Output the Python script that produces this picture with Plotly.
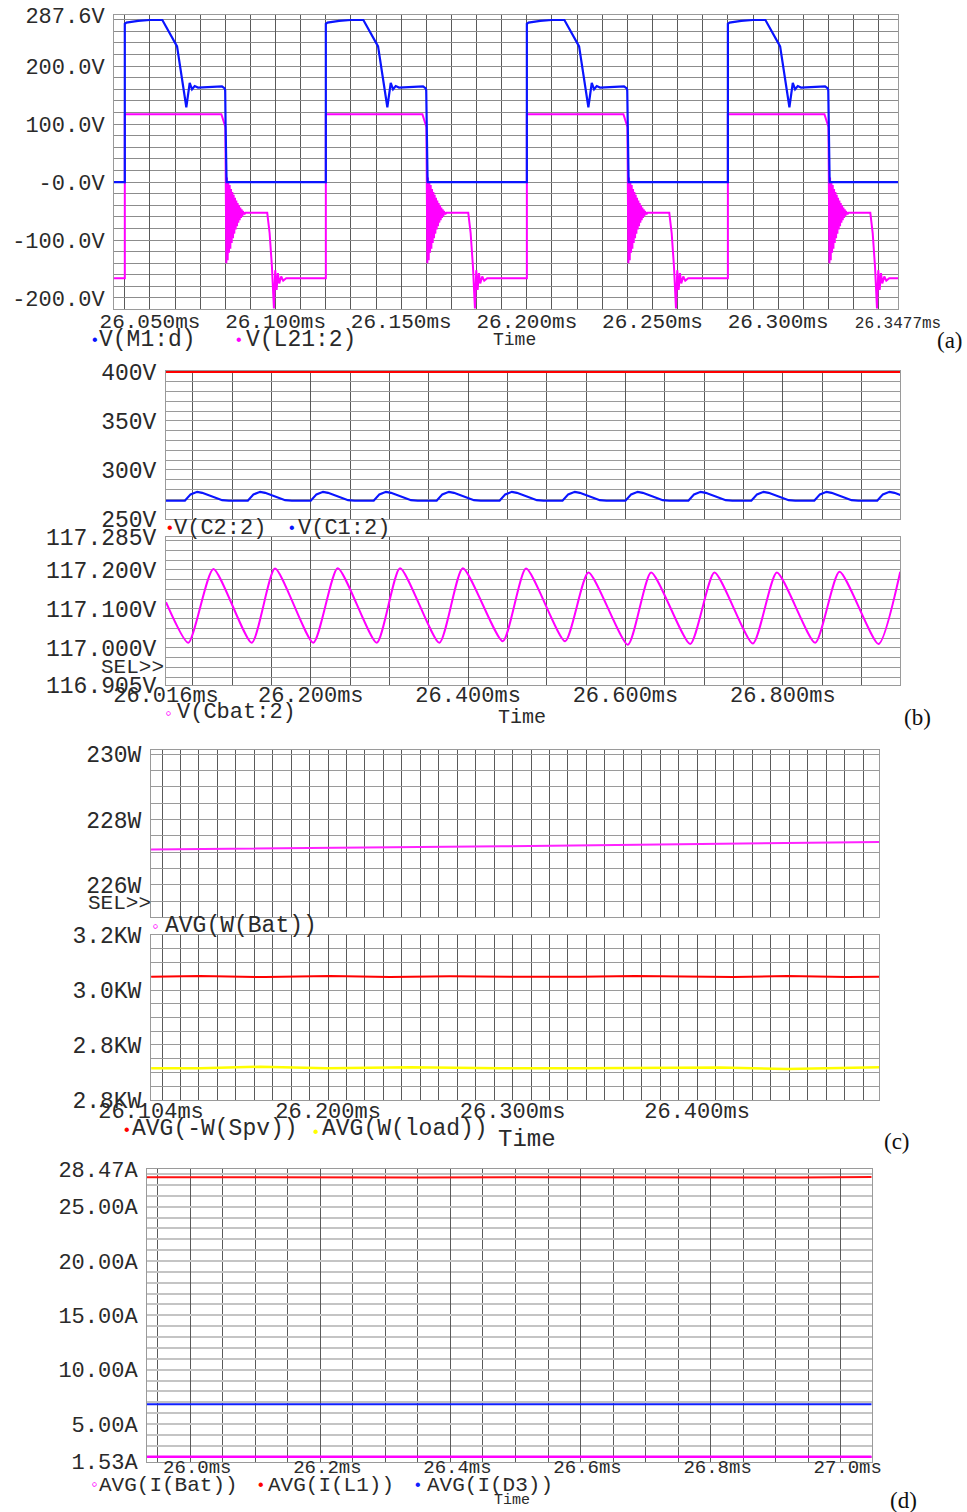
import plotly.graph_objects as go

W, H = 967, 1512
MONO = "Liberation Mono"
SERIF = "Liberation Serif"
TXT = "#2a2a2a"
VG = "#5a5a5a"      # vertical grid
FRAME = "#9a9a9a"

# ---------------- data: panel (a) ----------------
a_range = [26.0357, 26.3477]
a_edges = [26.040, 26.120, 26.200, 26.280]          # switching edges (ms)
# V(M1:d): one switching cycle (offset ms, volts)
md_dt = [0.0, 0.0, 0.00064, 0.00529, 0.00994, 0.01494, 0.02079, 0.02448, 0.02583,
         0.02675, 0.02782, 0.02913, 0.03867, 0.03975, 0.03995, 0.04010, 0.04050]
md_v = [0, 273, 275, 278, 279.5, 279.5, 234, 129, 171,
        160, 165.5, 163, 165, 161.5, 158, 100, 0]
# V(L21:2): one cycle incl. ringing burst (offset ms, volts)
l21_dt = [0.0, 0.0, 0.03843, 0.04002,
          0.04014, 0.04041, 0.04067, 0.04094, 0.04120, 0.04147, 0.04173, 0.04200,
          0.04226, 0.04253, 0.04279, 0.04306, 0.04331, 0.04358, 0.04384, 0.04411,
          0.04437, 0.04464, 0.04490, 0.04517, 0.04543, 0.04570, 0.04596, 0.04623,
          0.04649, 0.04676, 0.04702, 0.04729, 0.04755, 0.04782,
          0.04800, 0.05668, 0.05763, 0.05855, 0.05934, 0.05986, 0.06041, 0.06093,
          0.06145, 0.06224, 0.06304, 0.06423]
l21_v = [-166, 117, 117, 95,
         15, -140, 8, -135, 0, -122, -5, -115,
         -12, -105, -17, -97, -22, -89, -27, -82,
         -32, -76, -36, -70, -40, -66, -44, -62,
         -47, -59, -50, -56, -52, -54,
         -53, -53, -88, -146, -218, -152, -186, -157,
         -175, -163, -170, -166]
a_yticks = [287.6, 200, 100, 0, -100, -200]
a_ytext = ["287.6V", "200.0V", "100.0V", "-0.0V", "-100.0V", "-200.0V"]
a_xticks = [26.05, 26.10, 26.15, 26.20, 26.25, 26.30, 26.3477]
a_xtext = ["26.050ms", "26.100ms", "26.150ms", "26.200ms", "26.250ms", "26.300ms",
           '<span style="font-size:16px">26.3477ms</span>']

# ---------------- data: panel (b) ----------------
b_range = [26.016, 26.949]
c2_t = [26.016, 26.949]
c2_v = [400, 400]
c1_starts = [26.040, 26.120, 26.200, 26.280, 26.360, 26.440, 26.520, 26.600,
             26.680, 26.760, 26.840, 26.920]
c1_dt = [0.0, 0.00725, 0.01564, 0.02200, 0.03471, 0.04743, 0.05594]
c1_v = [268.6, 275.1, 277.7, 276.7, 272.6, 269.2, 268.6]
cbat_t = [26.0160, 26.0444, 26.0762, 26.1250, 26.1546, 26.2033, 26.2343, 26.2839,
          26.3135, 26.3635, 26.3933, 26.4441, 26.4737, 26.5233, 26.5530, 26.6031,
          26.6327, 26.6823, 26.7132, 26.7620, 26.7925, 26.8412, 26.8721, 26.9217,
          26.9493]
cbat_v = [117.117, 117.013, 117.202, 117.013, 117.203, 117.013, 117.204, 117.013,
          117.204, 117.013, 117.204, 117.017, 117.203, 117.017, 117.193, 117.008,
          117.193, 117.010, 117.193, 117.011, 117.193, 117.013, 117.195, 117.010,
          117.195]
b1_yticks = [400, 350, 300, 250]
b1_ytext = ["400V", "350V", "300V", "250V"]
b2_yticks = [117.285, 117.2, 117.1, 117.0, 116.905]
b2_ytext = ["117.285V", "117.200V", "117.100V", "117.000V", "116.905V"]
b_xticks = [26.016, 26.2, 26.4, 26.6, 26.8]
b_xtext = ["26.016ms", "26.200ms", "26.400ms", "26.600ms", "26.800ms"]

# ---------------- data: panel (c) ----------------
c_range = [26.104, 26.4988]
wbat_t = [26.104, 26.1696, 26.2320, 26.2941, 26.3565, 26.4188, 26.4811, 26.4988]
wbat_v = [227.08, 227.11, 227.15, 227.18, 227.22, 227.26, 227.30, 227.31]
spv_t = [26.1041, 26.1306, 26.1659, 26.2011, 26.2336, 26.2661, 26.3041, 26.3366,
         26.3664, 26.4016, 26.4195, 26.4488, 26.4813, 26.4988]
spv_v = [3.048, 3.051, 3.047, 3.051, 3.047, 3.050, 3.048, 3.048,
         3.051, 3.049, 3.047, 3.051, 3.047, 3.048]
load_t = [26.1041, 26.1306, 26.1631, 26.1995, 26.2444, 26.2932, 26.3366, 26.3908,
          26.4125, 26.4488, 26.4988]
load_v = [2.715, 2.715, 2.721, 2.715, 2.719, 2.715, 2.715, 2.719, 2.718, 2.713, 2.719]
c1_yticks = [230, 228, 226]
c1_ytext = ["230W", "228W", "226W"]
c2_yticks = [3.2, 3.0, 2.8, 2.6]
c2_ytext = ["3.2KW", "3.0KW", "2.8KW", "2.8KW"]
c_xticks = [26.104, 26.2, 26.3, 26.4]
c_xtext = ["26.104ms", "26.200ms", "26.300ms", "26.400ms"]

# ---------------- data: panel (d) ----------------
d_range = [25.9334, 27.0477]
il1_t = [25.9328, 26.1066, 26.2143, 26.3528, 26.5066, 26.6451, 26.7835, 26.9374, 27.0477]
il1_v = [27.71, 27.68, 27.72, 27.69, 27.72, 27.70, 27.71, 27.69, 27.73]
id3_t = [25.9334, 27.0477]
id3_v = [6.81, 6.81]
ibat_t = [25.9334, 27.0477]
ibat_v = [1.99, 1.99]
d_yticks = [28.47, 25, 20, 15, 10, 5, 1.53]
d_ytext = ["28.47A", "25.00A", "20.00A", "15.00A", "10.00A", "5.00A", "1.53A"]
d_xticks = [26.0, 26.2, 26.4, 26.6, 26.8, 27.0]
d_xtext = ["26.0ms", "26.2ms", "26.4ms", "26.6ms", "26.8ms", "27.0ms"]

# ---------------- build series ----------------
md_t, md_y = [a_range[0]], [0]
l21_t, l21_y = [a_range[0]], [-166]
for e in a_edges:
    md_t += [e + d for d in md_dt]; md_y += md_v
    l21_t += [e + d for d in l21_dt]; l21_y += l21_v
md_t.append(a_range[1]); md_y.append(0)
l21_t.append(a_range[1]); l21_y.append(-166)

c1_t, c1_y = [b_range[0]], [c1_v[0]]
for s in c1_starts:
    c1_t += [s + d for d in c1_dt]; c1_y += c1_v

fig = go.Figure()

def line(x, y, color, n, width=2, shape="linear", smoothing=None):
    ld = dict(color=color, width=width, shape=shape)
    if smoothing is not None:
        ld["smoothing"] = smoothing
    fig.add_trace(go.Scatter(x=x, y=y, mode="lines", line=ld,
                             xaxis="x" + n, yaxis="y" + n,
                             hoverinfo="skip", showlegend=False))

line(l21_t, l21_y, "#ff00ff", "", 2)
line(md_t, md_y, "#0a14ff", "", 2.2)
line(c1_t, c1_y, "#0a14ff", "2", 2.2)
line(c2_t, c2_v, "#ff0000", "2", 2)
line(cbat_t, cbat_v, "#ff00ff", "3", 2, shape="spline", smoothing=0.6)
line(wbat_t, wbat_v, "#ff22ff", "4", 2)
line(spv_t, spv_v, "#ff0000", "5", 2)
line(load_t, load_v, "#ffff00", "5", 2.5)
line(il1_t, il1_v, "#ff1010", "6", 2)
line(id3_t, id3_v, "#1020ff", "6", 2)
line(ibat_t, ibat_v, "#ff00ff", "6", 2.5)

def xdom(l, r):
    return [l / W, r / W]

def ydom(t, b):
    return [1 - b / H, 1 - t / H]

def xax(dom, rng, anchor, tv, tt, m0, md, show=True, size=22, shift=0, standoff=2):
    d = dict(domain=dom, range=rng, anchor=anchor, tickmode="array",
             tickvals=tv, ticktext=tt, showticklabels=show, ticks="",
             showgrid=True, gridcolor=VG, gridwidth=1, zeroline=False,
             showline=True, mirror=True, linecolor=FRAME, linewidth=1,
             automargin=False,
             tickfont=dict(family=MONO, size=size, color=TXT),
             ticklabelstandoff=standoff,
             minor=dict(tickmode="linear", tick0=m0, dtick=md, showgrid=True,
                        gridcolor=VG, gridwidth=1))
    if shift:
        d["ticklabelshift"] = shift
    return d

def yax(dom, rng, anchor, tv, tt, m0, md, gc, gw=1, size=22, standoff=4):
    return dict(domain=dom, range=rng, anchor=anchor, tickmode="array",
                tickvals=tv, ticktext=tt, ticks="", showgrid=True, gridcolor=gc,
                gridwidth=gw, zeroline=False, showline=True, mirror=True,
                linecolor=FRAME, linewidth=1, automargin=False,
                tickfont=dict(family=MONO, size=size, color=TXT),
                ticklabelstandoff=standoff,
                minor=dict(tickmode="linear", tick0=m0, dtick=md, showgrid=True,
                           gridcolor=gc, gridwidth=gw))

fig.update_layout(
    width=W, height=H, autosize=False,
    margin=dict(l=0, r=0, t=0, b=0, pad=0, autoexpand=False),
    paper_bgcolor="white", plot_bgcolor="white", showlegend=False,
    xaxis=xax(xdom(114, 898), a_range, "y", a_xticks, a_xtext, 26.04, 0.01, size=21, standoff=-8),
    yaxis=yax(ydom(15.3, 309.3), [-219.5, 287.62], "x", a_yticks, a_ytext, -200, 20, "#8c8c8c"),
    xaxis2=xax(xdom(166, 900), b_range, "y2", b_xticks, b_xtext, 26.05, 0.05, show=False),
    yaxis2=yax(ydom(371, 519), [249.99, 401], "x2", b1_yticks, b1_ytext, 250, 10, "#9a9a9a", size=23),
    xaxis3=xax(xdom(166, 900), b_range, "y3", b_xticks, b_xtext, 26.05, 0.05, size=22, standoff=-10),
    yaxis3=yax(ydom(536.5, 685), [116.9049, 117.2852], "x3", b2_yticks, b2_ytext, 116.9, 0.025, "#9a9a9a", size=23),
    xaxis4=xax(xdom(151, 879.3), c_range, "y4", c_xticks, c_xtext, 26.11, 0.01, show=False),
    yaxis4=yax(ydom(750, 916.7), [225.02, 230.13], "x4", c1_yticks, c1_ytext, 225.5, 0.5, "#9a9a9a", size=23),
    xaxis5=xax(xdom(151, 879.3), c_range, "y5", c_xticks, c_xtext, 26.11, 0.01, size=22, standoff=-9),
    yaxis5=yax(ydom(935, 1100), [2.5999, 3.2001], "x5", c2_yticks, c2_ytext, 2.65, 0.05, "#9a9a9a", size=23),
    xaxis6=xax(xdom(147, 871.7), d_range, "y6", d_xticks, d_xtext, 25.95, 0.05, size=19, shift=7, standoff=-13),
    yaxis6=yax(ydom(1169, 1461.7), [1.529, 28.471], "x6", d_yticks, d_ytext, 2, 1, "#c4c4c4", gw=2, size=22),
)

def ann(x, y, text, size=23, color=TXT, family=MONO, xanchor="left"):
    fig.add_annotation(x=x / W, y=1 - y / H, xref="paper", yref="paper", text=text,
                       showarrow=False, xanchor=xanchor, yanchor="middle",
                       font=dict(family=family, size=size, color=color), borderpad=0)

# legends / labels of panel (a)
ann(95, 341, "•", 16, "#0a14ff", xanchor="center")
ann(98, 340, "V(M1:d)", 23)
ann(239, 341, "•", 16, "#ff00ff", xanchor="center")
ann(245, 340, "V(L21:2)", 23)
ann(514, 340, "Time", 18, xanchor="center")
ann(950, 341, "(a)", 23, "#111", SERIF, xanchor="center")

# panel (b)
ann(170, 529, "•", 16, "#ff0000", xanchor="center")
ann(173, 528, "V(C2:2)", 22)
ann(292, 529, "•", 16, "#0a14ff", xanchor="center")
ann(297, 528, "V(C1:2)", 22)
ann(165, 667, "SEL&gt;&gt;", 21, xanchor="right")
ann(168, 714, "◦", 18, "#ff00ff", xanchor="center")
ann(176, 713, "V(Cbat:2)", 22)
ann(522, 717, "Time", 20, xanchor="center")
ann(917, 717, "(b)", 23, "#111", SERIF, xanchor="center")

# panel (c)
ann(152, 903, "SEL&gt;&gt;", 21, xanchor="right")
ann(155, 927, "◦", 18, "#ff00ff", xanchor="center")
ann(164, 926, "AVG(W(Bat))", 23)
ann(127, 1131, "•", 16, "#ff0000", xanchor="center")
ann(131, 1129, "AVG(-W(Spv))", 23)
ann(316, 1133, "•", 16, "#ffff00", xanchor="center")
ann(321, 1129, "AVG(W(load))", 23)
ann(527, 1139, "Time", 24, xanchor="center")
ann(897, 1141, "(c)", 23, "#111", SERIF, xanchor="center")

# panel (d)
ann(94, 1485, "◦", 18, "#ff00ff", xanchor="center")
ann(98, 1485, "AVG(I(Bat))", 21)
ann(261, 1486, "•", 16, "#ff0000", xanchor="center")
ann(267, 1485, "AVG(I(L1))", 21)
ann(418, 1486, "•", 16, "#1020ff", xanchor="center")
ann(426, 1485, "AVG(I(D3))", 21)
ann(512, 1500, "Time", 15, xanchor="center")
ann(903, 1500, "(d)", 23, "#111", SERIF, xanchor="center")

fig.write_html("out.html")
